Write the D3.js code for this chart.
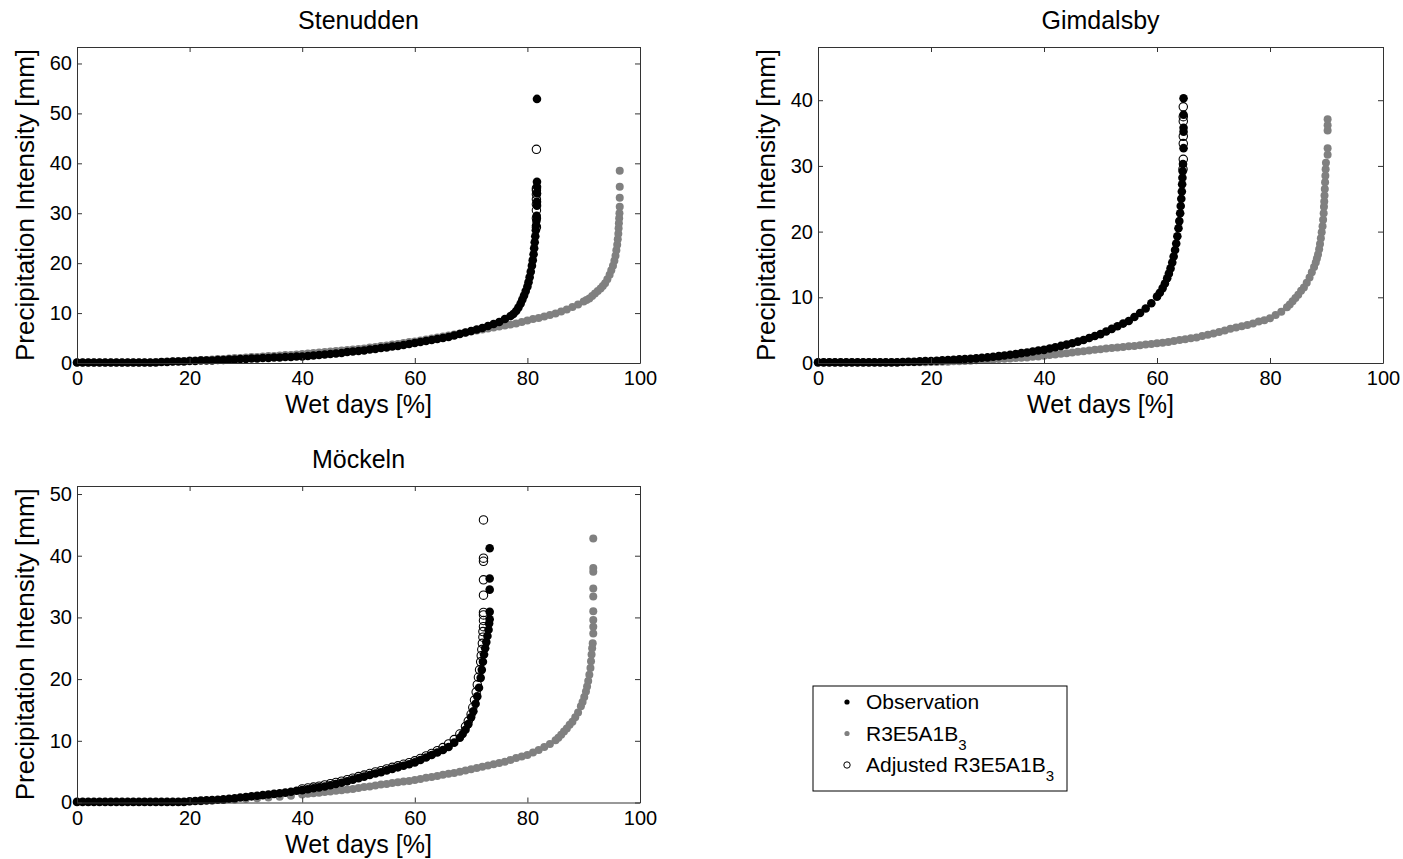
<!DOCTYPE html>
<html>
<head>
<meta charset="utf-8">
<script src="https://cdn.jsdelivr.net/npm/d3@7"></script>
<style>
  body { margin: 0; background: #fff; }
  svg { display: block; }
  text { font-family: "Liberation Sans", Arial, sans-serif; }
</style>
</head>
<body>
<svg id="chart" width="1403" height="859"></svg>
<script>
// [wet days %, intensity mm]
const stenuddenObs = [
  [0,0.1],[1,0.1],[2,0.1],[3,0.1],[4,0.1],[5,0.1],[6,0.1],[7,0.1],[8,0.1],[9,0.1],[10,0.1],[11,0.1],[12,0.1],[13,0.1],[14,0.1],
  [15,0.2],[16,0.2],[17,0.3],[18,0.3],[19,0.3],[20,0.4],[21,0.4],[22,0.5],[23,0.5],[24,0.5],[25,0.6],[26,0.6],[27,0.7],[28,0.7],[29,0.8],
  [30,0.8],[31,0.9],[32,0.9],[33,1.0],[34,1.0],[35,1.1],[36,1.1],[37,1.2],[38,1.2],[39,1.3],[40,1.3],[41,1.4],[42,1.5],[43,1.6],[44,1.7],
  [45,1.8],[46,1.9],[47,2.0],[48,2.2],[49,2.3],[50,2.4],[51,2.5],[52,2.7],[53,2.8],[54,3.0],[55,3.1],[56,3.3],[57,3.4],[58,3.6],[59,3.8],
  [60,4.0],[61,4.2],[62,4.4],[63,4.6],[64,4.8],[65,5.0],[66,5.2],[67,5.5],[68,5.8],[69,6.1],[70,6.4],[71,6.7],[72,7.0],[73,7.4],[74,7.8],
  [75,8.2],[76,8.8],[77,9.4],[77.5,9.8],[78,10.4],[78.4,11.1],[78.8,11.9],[79.1,12.7],[79.4,13.5],[79.7,14.4],[80,15.3],[80.2,16.2],
  [80.4,17.2],[80.6,18.3],[80.8,19.5],[80.95,20.6],[81.1,21.8],[81.2,23],[81.3,24.2],[81.4,25.4],[81.5,26.6],[81.55,27.6],[81.6,28.5],
  [81.65,29.5],[81.7,31.5],[81.7,32.3],[81.7,34],[81.7,35.3],[81.7,36.3],[81.7,52.9]
];
const stenuddenModel = [
  [0,0.1],[1,0.1],[2,0.1],[3,0.1],[4,0.1],[5,0.1],[6,0.1],[7,0.1],[8,0.1],[9,0.1],[10,0.1],[11,0.1],[12,0.1],[13,0.1],[14,0.2],
  [15,0.2],[16,0.3],[17,0.3],[18,0.4],[19,0.4],[20,0.5],[21,0.5],[22,0.6],[23,0.6],[24,0.7],[25,0.8],[26,0.8],[27,0.9],[28,1.0],[29,1.0],
  [30,1.1],[31,1.2],[32,1.2],[33,1.3],[34,1.4],[35,1.4],[36,1.5],[37,1.6],[38,1.6],[39,1.7],[40,1.8],[41,1.9],[42,2.0],[43,2.1],[44,2.2],
  [45,2.3],[46,2.4],[47,2.5],[48,2.6],[49,2.7],[50,2.8],[51,2.9],[52,3.1],[53,3.2],[54,3.4],[55,3.5],[56,3.7],[57,3.8],[58,4.0],[59,4.2],
  [60,4.3],[61,4.5],[62,4.7],[63,4.9],[64,5.1],[65,5.3],[66,5.5],[67,5.7],[68,5.9],[69,6.1],[70,6.3],[71,6.5],[72,6.7],[73,6.9],[74,7.1],
  [75,7.3],[76,7.5],[77,7.7],[78,7.9],[79,8.2],[80,8.5],[81,8.8],[82,9.0],[83,9.3],[84,9.6],[85,9.9],[86,10.3],[87,10.7],[88,11.2],
  [89,11.7],[90,12.3],[90.5,12.6],[91,12.9],[91.5,13.4],[92,13.9],[92.5,14.4],[93,14.9],[93.4,15.4],[93.8,16.0],[94.2,16.8],[94.6,17.7],
  [94.9,18.6],[95.2,19.5],[95.45,20.5],[95.65,21.5],[95.8,22.6],[95.95,23.7],[96.05,24.8],[96.15,25.9],[96.2,27],[96.25,28],[96.3,29],
  [96.35,30],[96.4,31.3],[96.4,33.1],[96.4,35.3],[96.4,38.5]
];
const stenuddenAdjusted = [
  [81.6,27.2],[81.6,29.0],[81.6,30.6],[81.6,31.8],[81.6,32.8],[81.6,33.8],[81.6,34.6],[81.6,35.0],[81.6,42.8]
];

const gimdalsbyObs = [
  [0,0.1],[1,0.1],[2,0.1],[3,0.1],[4,0.1],[5,0.1],[6,0.1],[7,0.1],[8,0.1],[9,0.1],[10,0.1],[11,0.1],[12,0.1],[13,0.1],[14,0.1],
  [15,0.15],[16,0.2],[17,0.2],[18,0.25],[19,0.3],[20,0.3],[21,0.35],[22,0.4],[23,0.45],[24,0.5],[25,0.55],[26,0.6],[27,0.65],[28,0.7],
  [29,0.8],[30,0.85],[31,0.95],[32,1.05],[33,1.15],[34,1.25],[35,1.35],[36,1.5],[37,1.6],[38,1.75],[39,1.9],[40,2.0],[41,2.2],[42,2.4],
  [43,2.6],[44,2.8],[45,3.0],[46,3.25],[47,3.5],[48,3.8],[49,4.1],[50,4.4],[51,4.8],[52,5.2],[53,5.6],[54,6.0],[55,6.4],[56,7.0],[57,7.6],
  [58,8.3],[59,9.1],[60,10.1],[60.5,10.7],[61,11.4],[61.4,12.1],[61.8,12.9],[62.1,13.6],[62.4,14.4],[62.7,15.3],[62.95,16.2],[63.2,17.2],
  [63.4,18.2],[63.6,19.3],[63.8,20.5],[63.95,21.6],[64.1,22.8],[64.2,23.9],[64.3,25],[64.4,26.1],[64.45,27.2],[64.5,28.2],[64.55,29.2],
  [64.6,30.3],[64.7,32.7],[64.7,35.2],[64.7,35.8],[64.7,37.8],[64.7,40.3]
];
const gimdalsbyModel = [
  [0,0.1],[1,0.1],[2,0.1],[3,0.1],[4,0.1],[5,0.1],[6,0.1],[7,0.1],[8,0.1],[9,0.1],[10,0.1],[11,0.1],[12,0.1],[13,0.1],[14,0.1],
  [15,0.1],[16,0.1],[17,0.1],[18,0.1],[19,0.1],[20,0.15],[21,0.15],[22,0.2],[23,0.2],[24,0.25],[25,0.25],[26,0.3],[27,0.35],[28,0.4],
  [29,0.45],[30,0.5],[31,0.55],[32,0.6],[33,0.65],[34,0.7],[35,0.75],[36,0.8],[37,0.85],[38,0.95],[39,1.0],[40,1.1],[41,1.2],[42,1.3],
  [43,1.4],[44,1.5],[45,1.6],[46,1.7],[47,1.8],[48,1.9],[49,2.0],[50,2.1],[51,2.2],[52,2.3],[53,2.35],[54,2.45],[55,2.55],[56,2.6],
  [57,2.7],[58,2.8],[59,2.9],[60,3.0],[61,3.1],[62,3.2],[63,3.35],[64,3.5],[65,3.6],[66,3.75],[67,3.9],[68,4.1],[69,4.3],[70,4.5],
  [71,4.7],[72,4.95],[73,5.2],[74,5.4],[75,5.6],[76,5.8],[77,6.0],[78,6.3],[79,6.5],[80,6.8],[81,7.3],[82,7.8],[83,8.5],[83.5,8.9],
  [84,9.4],[84.5,9.9],[85,10.4],[85.5,11.0],[86,11.5],[86.5,12.2],[87,13.0],[87.4,13.8],[87.8,14.6],[88.1,15.3],[88.3,15.9],[88.5,16.5],
  [88.7,17.3],[88.85,18.1],[89,19.0],[89.15,19.9],[89.3,20.8],[89.4,21.8],[89.5,22.8],[89.55,23.8],[89.6,24.6],[89.65,25.5],[89.7,26.5],
  [89.75,27.5],[89.8,28.5],[89.85,29.5],[89.9,30.5],[90.2,31.7],[90.2,32.7],[90.2,35.4],[90.2,36.2],[90.2,37.1]
];
const gimdalsbyAdjusted = [
  [64.6,29.5],[64.65,31.0],[64.65,33.4],[64.65,34.5],[64.65,36.8],[64.65,37.5],[64.65,39.0]
];

const mockelnObs = [
  [0,0.1],[1,0.1],[2,0.1],[3,0.1],[4,0.1],[5,0.1],[6,0.1],[7,0.1],[8,0.1],[9,0.1],[10,0.1],[11,0.1],[12,0.1],[13,0.1],[14,0.1],
  [15,0.1],[16,0.1],[17,0.1],[18,0.1],[19,0.1],[20,0.2],[21,0.25],[22,0.3],[23,0.35],[24,0.4],[25,0.45],[26,0.5],[27,0.6],[28,0.7],
  [29,0.8],[30,0.9],[31,1.0],[32,1.1],[33,1.2],[34,1.3],[35,1.4],[36,1.5],[37,1.6],[38,1.75],[39,1.9],[40,2.0],[41,2.15],[42,2.3],
  [43,2.45],[44,2.6],[45,2.8],[46,3.0],[47,3.2],[48,3.45],[49,3.7],[50,3.95],[51,4.2],[52,4.45],[53,4.7],[54,4.9],[55,5.2],[56,5.45],
  [57,5.7],[58,5.95],[59,6.2],[60,6.5],[61,6.9],[62,7.3],[63,7.7],[64,8.1],[65,8.5],[66,9.0],[67,9.7],[68,10.5],[68.5,11.1],[69,11.8],
  [69.5,12.7],[70,13.8],[70.4,14.8],[70.8,16],[71.1,17.2],[71.4,18.6],[71.7,20.2],[71.9,21.5],[72.1,22.8],[72.3,24],[72.5,25],[72.7,26],
  [72.9,27],[73.1,28],[73.2,29],[73.3,29.7],[73.3,30.9],[73.3,34.5],[73.3,36.3],[73.3,41.2]
];
const mockelnModel = [
  [0,0.1],[2,0.1],[4,0.1],[6,0.1],[8,0.1],[10,0.1],[12,0.1],[14,0.1],[16,0.1],[18,0.1],[20,0.15],[22,0.2],[24,0.3],[26,0.4],[28,0.5],
  [30,0.6],[32,0.7],[34,0.8],[36,0.95],[38,1.1],[40,1.3],[41,1.4],[42,1.5],[43,1.6],[44,1.7],[45,1.8],[46,1.9],[47,2.0],[48,2.1],[49,2.2],
  [50,2.35],[51,2.5],[52,2.6],[53,2.75],[54,2.9],[55,3.0],[56,3.15],[57,3.3],[58,3.4],[59,3.5],[60,3.65],[61,3.8],[62,4.0],[63,4.15],
  [64,4.3],[65,4.5],[66,4.65],[67,4.8],[68,5.0],[69,5.2],[70,5.4],[71,5.6],[72,5.8],[73,6.0],[74,6.2],[75,6.4],[76,6.6],[77,6.9],[78,7.2],
  [79,7.45],[80,7.7],[81,8.1],[82,8.5],[83,9.0],[84,9.5],[85,10.1],[85.5,10.5],[86,11.0],[86.5,11.5],[87,12.0],[87.5,12.6],[88,13.1],
  [88.5,13.8],[89,14.6],[89.5,15.6],[89.8,16.3],[90.1,17.1],[90.4,18.0],[90.6,18.8],[90.8,19.7],[91,20.7],[91.2,21.8],[91.3,22.9],
  [91.4,24],[91.5,25],[91.6,25.8],[91.7,27.4],[91.7,28.5],[91.7,29.6],[91.7,31],[91.7,33.4],[91.7,34.7],[91.7,37.4],[91.7,38],[91.7,42.8]
];
const mockelnAdjusted = [
  [40,2.2],[41,2.35],[42,2.5],[43,2.65],[44,2.85],[45,3.05],[46,3.25],[47,3.45],[48,3.7],[49,3.95],[50,4.2],[51,4.45],[52,4.7],[53,4.95],
  [54,5.15],[55,5.45],[56,5.7],[57,5.95],[58,6.2],[59,6.45],[60,6.75],[61,7.15],[62,7.55],[63,7.95],[64,8.4],[65,8.9],[66,9.5],[67,10.2],
  [68,11.1],[69,12.3],[69.5,13.2],[70,14.3],[70.3,15.4],[70.6,16.6],[70.9,17.9],[71.1,19.1],[71.3,20.3],[71.5,21.5],[71.7,22.8],[71.8,23.8],
  [71.9,24.8],[72,25.8],[72.1,26.8],[72.1,27.7],[72.2,28.5],[72.2,29.5],[72.2,30.4],[72.2,30.8],[72.2,33.6],[72.2,36.1],[72.2,39.1],
  [72.2,39.6],[72.2,45.8]
];

const xTickValues = [0, 20, 40, 60, 80, 100];
const stenuddenYTicks = [0, 10, 20, 30, 40, 50, 60];
const gimdalsbyYTicks = [0, 10, 20, 30, 40];
const mockelnYTicks = [0, 10, 20, 30, 40, 50];

const xLabel = "Wet days [%]";
const yLabel = "Precipitation Intensity [mm]";

const panels = [
  { title: "Stenudden", left: 77, top: 47, width: 563, height: 316, ymax: 63.3, yTicks: stenuddenYTicks,
    obs: stenuddenObs, model: stenuddenModel, adjusted: stenuddenAdjusted },
  { title: "Gimdalsby", left: 818, top: 47, width: 565, height: 316, ymax: 48.1, yTicks: gimdalsbyYTicks,
    obs: gimdalsbyObs, model: gimdalsbyModel, adjusted: gimdalsbyAdjusted },
  { title: "Möckeln", left: 77, top: 486, width: 563, height: 316.5, ymax: 51.3, yTicks: mockelnYTicks,
    obs: mockelnObs, model: mockelnModel, adjusted: mockelnAdjusted }
];

const GREY = "#808080";
const svg = d3.select("#chart");
const font = '"Liberation Sans", Arial, sans-serif';

function drawPanel(p) {
  const x = d3.scaleLinear().domain([0, 100]).range([p.left, p.left + p.width]);
  const y = d3.scaleLinear().domain([0, p.ymax]).range([p.top + p.height, p.top]);
  const bottom = p.top + p.height;
  const g = svg.append("g");

  // points: model first, adjusted circles, then observation on top
  g.append("g").selectAll("circle")
    .data(p.model)
    .join("circle")
    .attr("cx", d => x(d[0]))
    .attr("cy", d => y(d[1]))
    .attr("r", 4.0)
    .attr("fill", GREY);

  g.append("g").selectAll("circle")
    .data(p.adjusted)
    .join("circle")
    .attr("cx", d => x(d[0]))
    .attr("cy", d => y(d[1]))
    .attr("r", 4.2)
    .attr("fill", "none")
    .attr("stroke", "#000")
    .attr("stroke-width", 1.1);

  g.append("g").selectAll("circle")
    .data(p.obs)
    .join("circle")
    .attr("cx", d => x(d[0]))
    .attr("cy", d => y(d[1]))
    .attr("r", 4.3)
    .attr("fill", "#000");

  // axes, ticks pointing inward on all four sides
  const ax = g.append("g").attr("transform", `translate(0,${bottom})`)
    .call(d3.axisBottom(x).tickValues(xTickValues).tickSizeInner(-5).tickSizeOuter(0).tickPadding(8));
  const ay = g.append("g").attr("transform", `translate(${p.left},0)`)
    .call(d3.axisLeft(y).tickValues(p.yTicks).tickSizeInner(-5).tickSizeOuter(0).tickPadding(5));
  g.append("g").attr("transform", `translate(0,${p.top})`)
    .call(d3.axisTop(x).tickValues(xTickValues).tickSizeInner(-5).tickSizeOuter(0).tickFormat(""));
  g.append("g").attr("transform", `translate(${p.left + p.width},0)`)
    .call(d3.axisRight(y).tickValues(p.yTicks).tickSizeInner(-5).tickSizeOuter(0).tickFormat(""));

  g.selectAll(".domain, .tick line").attr("stroke", "#333");
  [ax, ay].forEach(a => a.selectAll("text")
    .attr("fill", "#000")
    .style("font-family", font)
    .style("font-size", "20px"));

  g.append("text")
    .attr("x", (p.left + p.left + p.width) / 2)
    .attr("y", p.top - 18)
    .attr("text-anchor", "middle")
    .style("font-size", "25px")
    .text(p.title);

  g.append("text")
    .attr("x", (p.left + p.left + p.width) / 2)
    .attr("y", bottom + 50)
    .attr("text-anchor", "middle")
    .style("font-size", "25px")
    .text(xLabel);

  g.append("text")
    .attr("transform", `translate(${p.left - 43},${p.top + p.height / 2}) rotate(-90)`)
    .attr("text-anchor", "middle")
    .style("font-size", "26px")
    .text(yLabel);
}

panels.forEach(drawPanel);

// legend
const legendItems = [
  { label: "Observation", sub: null, kind: "obs" },
  { label: "R3E5A1B", sub: "3", kind: "model" },
  { label: "Adjusted R3E5A1B", sub: "3", kind: "adjusted" }
];

const legend = svg.append("g").attr("transform", "translate(813,686)");
legend.append("rect")
  .attr("width", 254)
  .attr("height", 105)
  .attr("fill", "#fff")
  .attr("stroke", "#000")
  .attr("stroke-width", 1);

legendItems.forEach((d, i) => {
  const row = legend.append("g").attr("transform", `translate(0,${23 + i * 31.5})`);
  const mark = row.append("circle").attr("cx", 34).attr("cy", -7);
  if (d.kind === "obs") mark.attr("r", 2.6).attr("fill", "#000");
  else if (d.kind === "model") mark.attr("r", 2.6).attr("fill", GREY);
  else mark.attr("r", 3.2).attr("fill", "none").attr("stroke", "#000").attr("stroke-width", 1);

  const t = row.append("text")
    .attr("x", 53)
    .attr("y", 0)
    .style("font-size", "21px")
    .text(d.label);
  if (d.sub) {
    t.append("tspan")
      .attr("dy", 9)
      .style("font-size", "15px")
      .text(d.sub);
  }
});
</script>
</body>
</html>
